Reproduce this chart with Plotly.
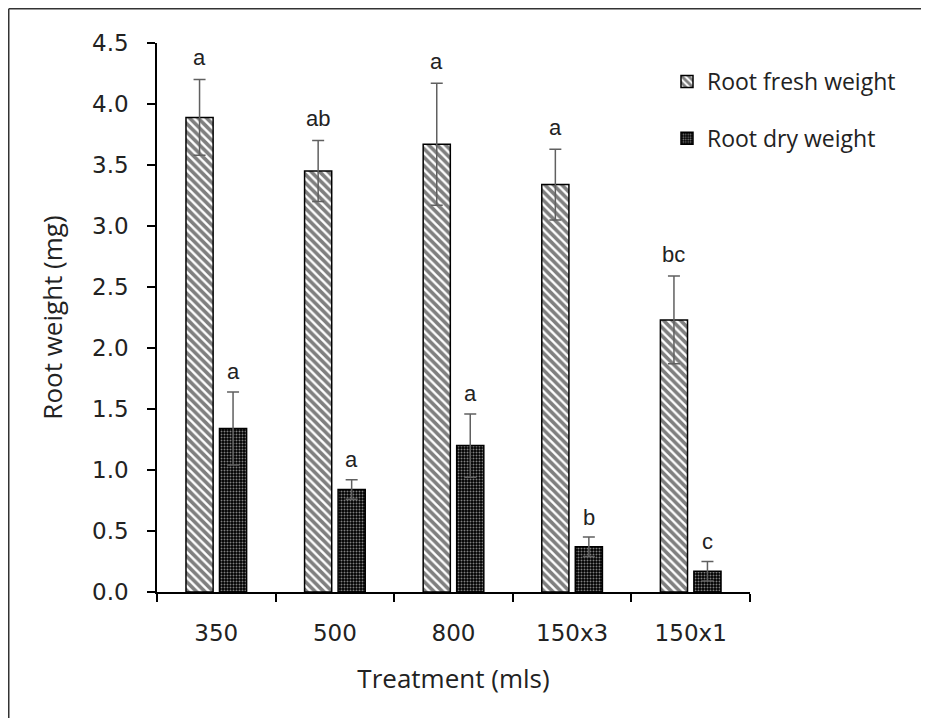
import plotly.graph_objects as go

categories = ["350", "500", "800", "150x3", "150x1"]
fresh_weight = [3.89, 3.45, 3.67, 3.34, 2.23]
fresh_err = [0.31, 0.25, 0.50, 0.29, 0.36]
fresh_letters = ["a", "ab", "a", "a", "bc"]
dry_weight = [1.34, 0.84, 1.20, 0.37, 0.17]
dry_err = [0.30, 0.08, 0.26, 0.08, 0.08]
dry_letters = ["a", "a", "a", "b", "c"]
y_ticks = [0, 0.5, 1.0, 1.5, 2.0, 2.5, 3.0, 3.5, 4.0, 4.5]

# the page body adds an 8px margin on every side; size figure to fit inside it
OFF = 8
W, H = 929 - 2 * OFF, 726 - 2 * OFF
L, T = 157 - OFF, 43 - OFF
R = W - (750 - OFF)
B = H - (592 - OFF)
pw, ph = W - L - R, H - T - B

fig = go.Figure()
fig.add_trace(go.Bar(
    x=categories, y=fresh_weight, name="Root fresh weight",
    legendgroup="f",
    marker=dict(color="white", line=dict(color="black", width=1.5),
                pattern=dict(shape="\\", fgcolor="black", bgcolor="white",
                             size=6, solidity=0.6, fillmode="overlay")),
    error_y=dict(type="data", array=fresh_err, color="#606060", thickness=1.5, width=6),
))
fig.add_trace(go.Bar(
    x=categories, y=dry_weight, name="Root dry weight",
    legendgroup="d",
    marker=dict(color="black", line=dict(color="black", width=1.5),
                pattern=dict(shape=".", fgcolor="white", bgcolor="black",
                             size=3, solidity=0.35, fillmode="overlay")),
    error_y=dict(type="data", array=dry_err, color="#606060", thickness=1.5, width=6),
))

letter_font = dict(family="Liberation Sans, Arial", size=22, color="#222222")
for i in range(len(categories)):
    fig.add_annotation(x=i, y=fresh_weight[i] + fresh_err[i], text=fresh_letters[i],
                       showarrow=False, xshift=-16.75, yshift=22, yanchor="middle",
                       font=letter_font)
    fig.add_annotation(x=i, y=dry_weight[i] + dry_err[i], text=dry_letters[i],
                       showarrow=False, xshift=16.75, yshift=20, yanchor="middle",
                       font=letter_font)

# outer frame (left and top edges visible), ending at the figure edges
x0 = (0.75 - L) / pw
y0 = 1 + (T - 0.75) / ph
x_end = (W - L) / pw
y_end = -B / ph
fig.add_shape(type="line", xref="paper", yref="paper", x0=x0, x1=x0, y0=y0, y1=y_end,
              line=dict(color="#333333", width=1.5))
fig.add_shape(type="line", xref="paper", yref="paper", x0=x0, x1=x_end, y0=y0, y1=y0,
              line=dict(color="#333333", width=1.5))

fig.update_layout(
    width=W, height=H,
    margin=dict(l=L, r=R, t=T, b=B, autoexpand=False),
    paper_bgcolor="white", plot_bgcolor="white",
    barmode="group", bargap=0.435, bargroupgap=0.19,
    font=dict(family="DejaVu Sans", color="#222222"),
    legend=dict(x=(667 - OFF - L) / pw, y=1 - (60 - OFF - T) / ph,
                xanchor="left", yanchor="top",
                font=dict(family="Open Sans", size=23, color="#222222"),
                tracegroupgap=24, bgcolor="rgba(0,0,0,0)", itemwidth=30),
    xaxis=dict(type="category", categoryorder="array", categoryarray=categories,
               range=[-0.5, len(categories) - 0.5],
               showline=True, linecolor="black", linewidth=1.5,
               ticks="outside", ticklen=8, tickcolor="black", tickwidth=1.5,
               tickson="boundaries", ticklabelstandoff=20, tickangle=0,
               tickfont=dict(family="DejaVu Sans", size=23, color="#222222"),
               title=dict(text="Treatment (mls)", standoff=24,
                          font=dict(family="Open Sans", size=26, color="#222222"))),
    yaxis=dict(range=[0, 4.5], tickvals=y_ticks, tickformat=".1f",
               showline=True, linecolor="black", linewidth=1.5,
               ticks="outside", ticklen=8, tickcolor="black", tickwidth=1.5,
               showgrid=False, zeroline=False, ticklabelstandoff=14,
               tickfont=dict(family="DejaVu Sans", size=23, color="#222222"),
               title=dict(text="Root weight (mg)", standoff=22,
                          font=dict(family="Open Sans", size=26, color="#222222"))),
)

fig.write_html("out.html")
